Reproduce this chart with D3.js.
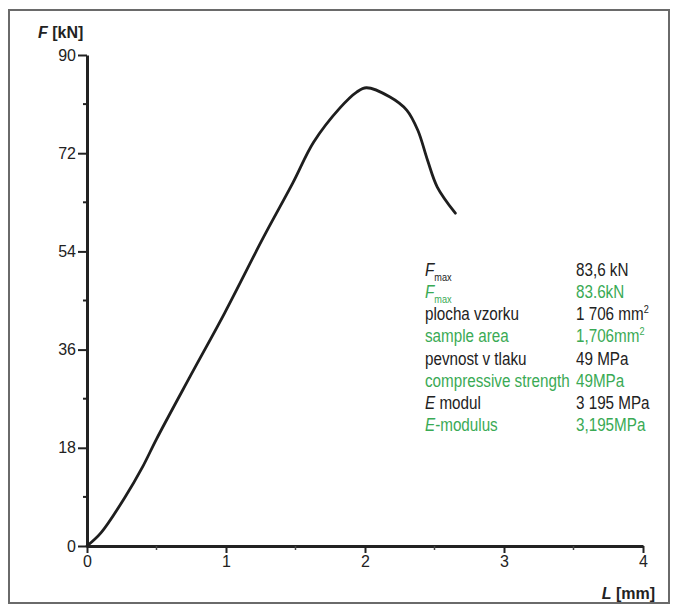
<!DOCTYPE html>
<html>
<head>
<meta charset="utf-8">
<script src="https://cdn.jsdelivr.net/npm/d3@7"></script>
<style>
  body { margin: 0; background: #fff; }
  svg text { font-family: "Liberation Sans", Arial, sans-serif; fill: #222; }
</style>
</head>
<body>
<div id="chart"></div>
<script>
// load-displacement curve
var displacement = [0, 0.10, 0.27, 0.40, 0.50, 0.74, 0.99, 1.27, 1.48, 1.63, 1.82, 1.94, 2.01, 2.18, 2.30, 2.38, 2.45, 2.52, 2.65];
var force = [0, 2.4, 8.8, 14.5, 19.6, 31.0, 42.7, 56.6, 66.5, 74.0, 80.3, 83.2, 84.0, 82.3, 79.9, 76.2, 70.7, 65.8, 61.0];

var yTicks = [0, 18, 36, 54, 72, 90];
var yMinor = [9, 27, 45, 63, 81];
var xTicks = [0, 1, 2, 3, 4];
var xMinor = [0.5, 1.5, 2.5, 3.5];

// legend block
var legendLabels = ["F|max", "F|max", "plocha vzorku", "sample area", "pevnost v tlaku", "compressive strength", "E| modul", "E|-modulus"];
var legendValues = ["83,6 kN", "83.6kN", "1 706 mm|2", "1,706mm|2", "49 MPa", "49MPa", "3 195 MPa", "3,195MPa"];
var legendColors = ["#222", "#3aaa55", "#222", "#3aaa55", "#222", "#3aaa55", "#222", "#3aaa55"];

var width = 677, height = 610;
var svg = d3.select("#chart").append("svg")
    .attr("width", width)
    .attr("height", height);

// frame
svg.append("rect")
    .attr("x", 9).attr("y", 10)
    .attr("width", 660).attr("height", 593)
    .attr("fill", "none")
    .attr("stroke", "#6a6a6a")
    .attr("stroke-width", 2);

var x = d3.scaleLinear().domain([0, 4]).range([87, 643]);
var y = d3.scaleLinear().domain([0, 90]).range([546, 55]);

var yAxis = d3.axisLeft(y).tickValues(yTicks).tickSize(9).tickSizeOuter(0).tickPadding(2).tickFormat(d3.format("d"));
var xAxis = d3.axisBottom(x).tickValues(xTicks).tickSize(7).tickSizeOuter(0).tickPadding(3).tickFormat(d3.format("d"));

var gy = svg.append("g").attr("transform", `translate(${x(0)},0)`).call(yAxis);
var gx = svg.append("g").attr("transform", `translate(0,${y(0)})`).call(xAxis);

[gy, gx].forEach(g => {
  g.select(".domain").attr("stroke", "#222").attr("stroke-width", 3);
  g.selectAll(".tick line").attr("stroke", "#222").attr("stroke-width", 2);
  g.selectAll(".tick text").attr("font-size", 16).attr("fill", "#222")
      .style("font-family", '"Liberation Sans", Arial, sans-serif');
});

// minor ticks
svg.append("g").selectAll("line").data(yMinor).enter().append("line")
    .attr("x1", x(0) - 4).attr("x2", x(0))
    .attr("y1", d => y(d)).attr("y2", d => y(d))
    .attr("stroke", "#222").attr("stroke-width", 2);
svg.append("g").selectAll("line").data(xMinor).enter().append("line")
    .attr("x1", d => x(d)).attr("x2", d => x(d))
    .attr("y1", y(0)).attr("y2", y(0) + 4)
    .attr("stroke", "#444").attr("stroke-width", 1.5);

// curve
var pts = displacement.map((d, i) => [d, force[i]]);
var line = d3.line()
    .x(d => x(d[0]))
    .y(d => y(d[1]))
    .curve(d3.curveCatmullRom.alpha(0.5));

svg.append("path")
    .datum(pts)
    .attr("d", line)
    .attr("fill", "none")
    .attr("stroke", "#1e1e1e")
    .attr("stroke-width", 2.8)
    .attr("stroke-linejoin", "round")
    .attr("stroke-linecap", "round");

// axis titles
var ty = svg.append("text").attr("x", 38).attr("y", 38).attr("font-size", 16).attr("font-weight", "bold");
ty.append("tspan").attr("font-style", "italic").text("F");
ty.append("tspan").text(" [kN]");

var tx = svg.append("text").attr("x", 655).attr("y", 599).attr("font-size", 16)
    .attr("font-weight", "bold").attr("text-anchor", "end");
tx.append("tspan").attr("font-style", "italic").text("L");
tx.append("tspan").text(" [mm]");

// legend, squeezed horizontally like the condensed print font
var sx = 0.87;
var rowY = d3.scaleLinear().domain([0, 7]).range([276, 431]);
var leg = svg.append("g").attr("font-size", 17.5)
    .attr("transform", `translate(425,0) scale(${sx},1)`);

legendLabels.forEach((lab, i) => {
  var t = leg.append("text").attr("x", 0).attr("y", rowY(i)).style("fill", legendColors[i]);
  var parts = lab.split("|");
  if (parts[1] === "max") {
    t.append("tspan").attr("font-style", "italic").style("fill", legendColors[i]).text("F");
    t.append("tspan").attr("font-size", 10.5).attr("dy", 5).style("fill", legendColors[i]).text("max");
  } else if (parts.length > 1) {
    t.append("tspan").attr("font-style", "italic").style("fill", legendColors[i]).text(parts[0]);
    t.append("tspan").style("fill", legendColors[i]).text(parts[1]);
  } else {
    t.text(lab);
  }
});

legendValues.forEach((val, i) => {
  var t = leg.append("text").attr("x", (576 - 425) / sx).attr("y", rowY(i)).style("fill", legendColors[i]);
  var parts = val.split("|");
  t.append("tspan").style("fill", legendColors[i]).text(parts[0]);
  if (parts.length > 1) {
    t.append("tspan").attr("font-size", 10.5).attr("dy", -7).style("fill", legendColors[i]).text(parts[1]);
  }
});
</script>
</body>
</html>
